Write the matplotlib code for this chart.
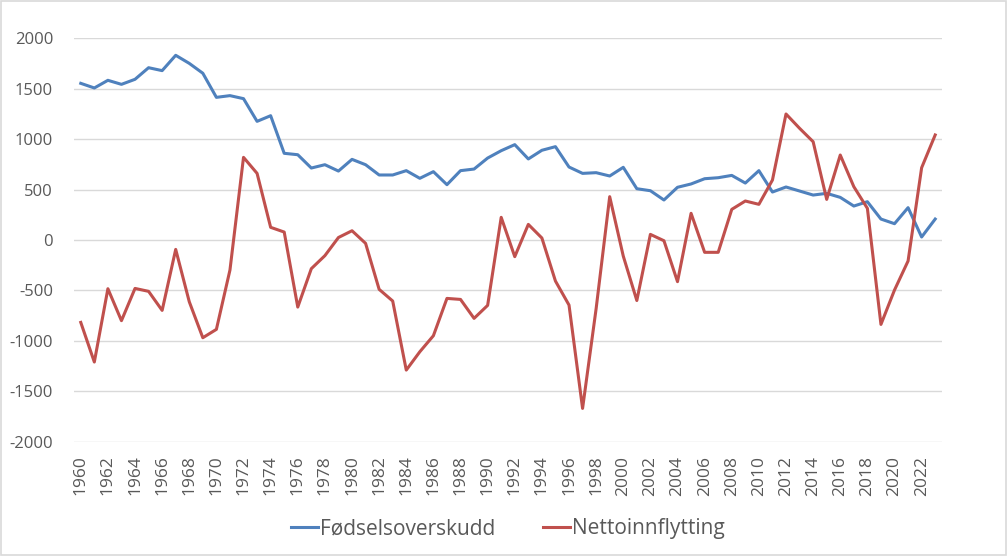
import matplotlib.pyplot as plt
from matplotlib.patches import Rectangle

# År
years = list(range(1960, 2024))

# Fødselsoverskudd per år
fodselsoverskudd = [1554, 1508, 1584, 1544, 1594, 1709, 1680, 1832, 1752, 1654,
                    1415, 1432, 1402, 1177, 1233, 860, 846, 714, 747, 684,
                    800, 747, 645, 645, 688, 612, 678, 549, 688, 704,
                    813, 886, 946, 804, 890, 926, 724, 661, 668, 635,
                    721, 509, 489, 397, 523, 556, 608, 618, 641, 565,
                    688, 476, 526, 486, 446, 463, 423, 337, 380, 208,
                    162, 321, 30, 208]

# Nettoinnflytting per år
nettoinnflytting = [-817, -1210, -483, -800, -480, -509, -698, -93, -612, -969,
                    -886, -298, 820, 661, 126, 79, -665, -284, -155, 25,
                    92, -33, -489, -605, -1290, -1108, -949, -579, -589, -777,
                    -648, 225, -165, 155, 20, -407, -645, -1670, -680, 430,
                    -159, -600, 56, -7, -413, 265, -122, -122, 304, 387,
                    354, 595, 1250, 1108, 975, 403, 843, 529, 314, -837,
                    -496, -208, 717, 1042]

y_ticks = [-2000, -1500, -1000, -500, 0, 500, 1000, 1500, 2000]
x_ticks = list(range(1960, 2023, 2))

plt.rcParams['font.family'] = ['Open Sans', 'DejaVu Sans']
plt.rcParams['axes.unicode_minus'] = False

fig = plt.figure(figsize=(10.08, 5.56), dpi=100)
ax = fig.add_axes([0.0734, 0.2056, 0.8611, 0.7254])

ax.plot(years, fodselsoverskudd, color="#4F81BD", linewidth=2.2, label="Fødselsoverskudd")
ax.plot(years, nettoinnflytting, color="#C0504D", linewidth=2.2, label="Nettoinnflytting")

ax.set_xlim(1959.5, 2023.5)
ax.set_ylim(-2000, 2000)
ax.set_yticks(y_ticks)
ax.set_xticks(x_ticks)
ax.set_xticklabels([str(x) for x in x_ticks], rotation=90)

ax.grid(axis="y", color="#d9d9d9", linewidth=1)
ax.set_axisbelow(True)
for s in ax.spines.values():
    s.set_visible(False)
ax.tick_params(axis="both", length=0, labelsize=12, labelcolor="#595959")
ax.tick_params(axis="y", pad=15)
ax.tick_params(axis="x", pad=10, labelsize=12.5)

fig.legend(loc="center", bbox_to_anchor=(0.504, 0.049), ncol=2, frameon=False,
           fontsize=15, labelcolor="#595959", handlelength=1.3, handletextpad=0.1,
           columnspacing=2.3)

# Ramme rundt figuren
fig.patches.append(Rectangle((0.001, 0.002), 0.997, 0.996, transform=fig.transFigure,
                             fill=False, edgecolor="#d9d9d9", linewidth=1.2))

fig.savefig("out.png", dpi=100)
